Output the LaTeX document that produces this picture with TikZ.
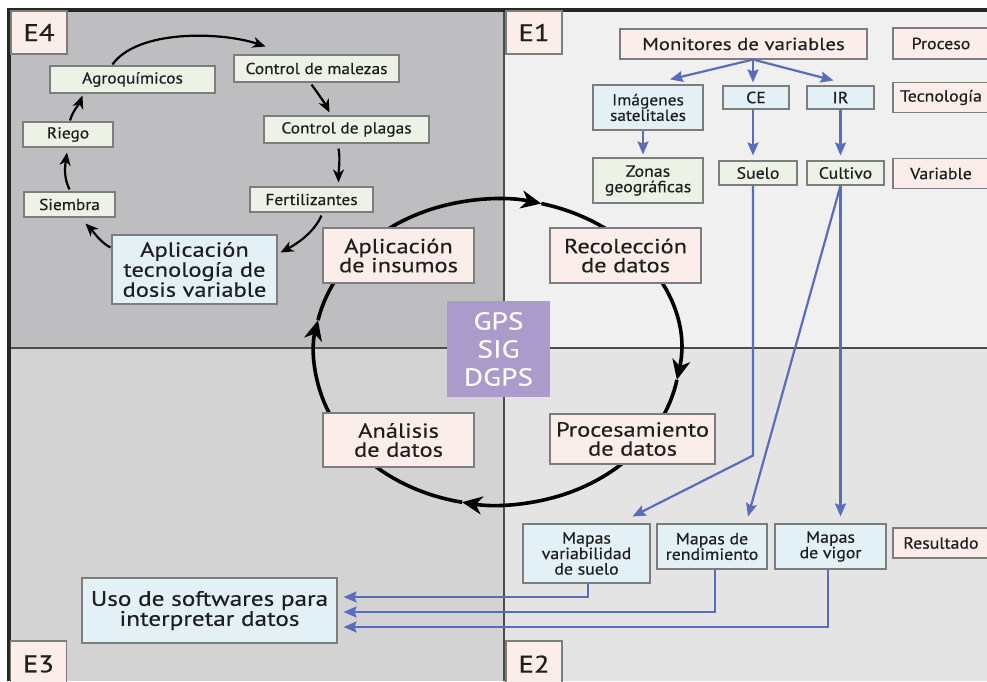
\documentclass[tikz,border=0pt]{standalone}
\usepackage{fontspec}
\setmainfont{PT Sans}[FakeStretch=1.2, FakeBold=0.3]
\newfontfamily\smallfam{PT Sans}[FakeStretch=1.1, FakeBold=0.5]
\usetikzlibrary{arrows.meta,calc}
\definecolor{pinkf}{RGB}{251,237,233}
\definecolor{greenf}{RGB}{237,242,231}
\definecolor{bluef}{RGB}{227,241,246}
\definecolor{bordc}{RGB}{125,125,125}
\definecolor{purp}{RGB}{170,155,202}
\definecolor{bluel}{RGB}{90,108,190}
\definecolor{qa}{RGB}{190,190,193}
\definecolor{qb}{RGB}{240,240,240}
\definecolor{qc}{RGB}{211,211,211}
\definecolor{qd}{RGB}{228,228,228}
\definecolor{txt}{RGB}{30,30,30}
\begin{document}
\begin{tikzpicture}[x=1pt,y=-1pt,
  box/.style={draw=bordc, line width=1.1pt, inner sep=0pt, align=center, text=txt},
  pinkbox/.style={box, fill=pinkf},
  greenbox/.style={box, fill=greenf},
  bluebox/.style={box, fill=bluef},
  fsmall/.style={font=\smallfam\fontsize{15.8}{15.5}\selectfont},
  fmid/.style={font=\smallfam\fontsize{16.2}{15.5}\selectfont},
  fbig/.style={font=\fontsize{20.4}{19}\selectfont},
  elabel/.style={pinkbox, font=\fontsize{24}{24}\selectfont, minimum width=56pt, minimum height=43pt},
  ring/.style={line width=3.6pt, black, -{Stealth[length=20pt,width=18pt,inset=6pt]}},
  blk/.style={line width=2.2pt, black, -{Stealth[length=13pt,width=11pt,inset=4pt]}},
  blu/.style={line width=2.2pt, bluel, -{Stealth[length=13pt,width=11pt,inset=2pt]}},
  divider/.style={line width=2pt, black!70}
]
\useasboundingbox (0,0) rectangle (987,681);
\clip (0,0) rectangle (987,681);
\fill[white] (0,0) rectangle (987,681);
% quadrants
\fill[qa] (9,10) rectangle (504,348);
\fill[qb] (504,10) rectangle (987,348);
\fill[qc] (9,348) rectangle (504,681);
\fill[qd] (504,348) rectangle (987,681);
\draw[divider] (504,10) -- (504,681);
\draw[divider] (9,348) -- (987,348);
\draw[line width=3.2pt, black!85] (9,681) -- (9,10) -- (987,10);

% ring
\def\rcx{497}\def\rcy{352}
\draw[ring] (\rcx,\rcy) ++(192:183 and 153) arc[start angle=192, end angle=284, x radius=183, y radius=153];
\draw[ring] (\rcx,\rcy) ++(284:183 and 153) arc[start angle=284, end angle=370.5, x radius=183, y radius=153];
\draw[ring] (\rcx,\rcy) ++(10.5:183 and 153) arc[start angle=10.5, end angle=101, x radius=183, y radius=153];
\draw[ring] (\rcx,\rcy) ++(101:183 and 153) arc[start angle=101, end angle=192, x radius=183, y radius=153];

% E labels
\node[elabel] (e4) at (39,32.5) {E4};
\node[elabel] (e1) at (534,32.5) {E1};
\node[elabel, minimum height=46pt] (e3) at (38.5,664) {E3};
\node[elabel, minimum height=46pt] (e2) at (534,664) {E2};

% E4 nodes
\node[greenbox, fsmall, minimum width=165pt, minimum height=27pt] (agro) at (132.5,79.5) {Agroquímicos};
\node[greenbox, fsmall, minimum width=165pt, minimum height=27pt] (malezas) at (316.5,68.5) {Control de malezas};
\node[greenbox, fsmall, minimum width=165pt, minimum height=27pt] (plagas) at (346.5,129.5) {Control de plagas};
\node[greenbox, fsmall, minimum width=123pt, minimum height=25pt] (fert) at (311.5,199.5) {Fertilizantes};
\node[greenbox, fsmall, minimum width=90pt, minimum height=25pt] (riego) at (68,134.5) {Riego};
\node[greenbox, fsmall, minimum width=91pt, minimum height=25pt] (siembra) at (69.5,204.5) {Siembra};
\node[bluebox, font=\fontsize{20.4}{20}\selectfont, minimum width=165pt, minimum height=69pt] (apltec) at (194.5,269.5) {Aplicación\\tecnología de\\dosis variable};

% cycle nodes
\node[pinkbox, fbig, minimum width=151pt, minimum height=55pt] (aplins) at (398.5,255.5) {Aplicación\\de insumos};
\node[pinkbox, fbig, minimum width=151pt, minimum height=55pt] (recol) at (625.5,255.5) {Recolección\\de datos};
\node[pinkbox, fbig, minimum width=151pt, minimum height=54pt] (anal) at (398.5,440) {Análisis\\de datos};
\node[pinkbox, fbig, minimum width=165pt, minimum height=50pt] (proc) at (632.5,439) {Procesamiento\\de datos};
\node[fill=purp, text=white, inner sep=0pt, align=center, font=\fontsize{24.5}{28}\selectfont, minimum width=103pt, minimum height=96pt] (gps) at (498.5,349) {GPS\\SIG\\DGPS};

% E1 nodes
\node[pinkbox, font=\fontsize{17.4}{18}\selectfont, minimum width=247pt, minimum height=30pt] (mon) at (743.5,44) {Monitores de variables};
\node[pinkbox, fmid, minimum width=96pt, minimum height=31pt] (proceso) at (941,43.5) {Proceso};
\node[bluebox, fsmall, minimum width=110pt, minimum height=45pt] (img) at (648,107.5) {Imágenes\\satelitales};
\node[bluebox, fmid, minimum width=66pt, minimum height=23pt] (ce) at (756,97.5) {CE};
\node[bluebox, fmid, minimum width=67pt, minimum height=23pt] (ir) at (840.5,97.5) {IR};
\node[pinkbox, fmid, minimum width=96pt, minimum height=30pt] (tecno) at (941,97.5) {Tecnología};
\node[greenbox, fmid, minimum width=110pt, minimum height=45pt] (zonas) at (648,180.5) {Zonas\\geográficas};
\node[greenbox, fmid, minimum width=78pt, minimum height=24pt] (suelo) at (758,173) {Suelo};
\node[greenbox, fmid, minimum width=77pt, minimum height=24pt] (cultivo) at (845.5,173) {Cultivo};
\node[pinkbox, fmid, minimum width=96pt, minimum height=30pt] (variable) at (941,173.5) {Variable};

% E2 nodes
\node[bluebox, fmid, minimum width=127pt, minimum height=59pt] (mapsuelo) at (586.5,553.5) {Mapas\\variabilidad\\de suelo};
\node[bluebox, fmid, minimum width=110pt, minimum height=45pt] (maprend) at (712,546.5) {Mapas de\\rendimiento};
\node[bluebox, fmid, minimum width=111pt, minimum height=45pt] (mapvigor) at (830.5,546.5) {Mapas\\de vigor};
\node[pinkbox, fmid, minimum width=96pt, minimum height=30pt] (resultado) at (941,543) {Resultado};

% E3 node
\node[bluebox, font=\fontsize{21}{20}\selectfont, minimum width=255pt, minimum height=65pt] (uso) at (209.5,610.5) {Uso de softwares para\\interpretar datos};

% E4 connectors
\draw[blk] ($(agro.north)+(-20,-1)$) .. controls +(25,-35) and +(-45,-15) .. ($(malezas.north)+(-51,-8)$);
\draw[blk] ($(malezas.south)+(-5,2)$) .. controls +(6,8) and +(-4,-8) .. ($(plagas.north)+(-17,-3)$);
\draw[blk] ($(plagas.south)+(-8,5)$) .. controls +(2,10) and +(0,-10) .. ($(fert.north)+(27,-4)$);
\draw[blk] ($(fert.south)+(10,3)$) .. controls +(-8,18) and +(15,-8) .. ($(apltec.east)+(3,-17)$);
\draw[blk] ($(apltec.west)+(-1,-22)$) .. controls +(-10,-5) and +(7,7) .. ($(siembra.south)+(16,6)$);
\draw[blk] ($(siembra.north)+(0,-2)$) .. controls +(-6,-12) and +(-2,14) .. ($(riego.south)+(-1,5)$);
\draw[blk] ($(riego.north)+(2,-1)$) .. controls +(3,-10) and +(-3,8) .. ($(agro.south)+(-50,2)$);

% E1 blue connectors
\coordinate (monout) at ($(mon.south)+(9.5,0)$);
\draw[blu] (monout) -- ($(img.north)+(22,-5)$);
\draw[blu] (monout) -- ($(ce.north)+(-3,-3)$);
\draw[blu] (monout) -- ($(ir.north)+(-7,-5)$);
\draw[blu] ($(img.south)+(-5,0)$) -- ($(zonas.north)+(-5,-3)$);
\draw[blu] ($(ce.south)+(-3,0)$) -- ($(suelo.north)+(-5,-5)$);
\draw[blu] (ir.south) -- ($(cultivo.north)+(-5,-5)$);
\draw[blu] ($(suelo.south)+(-5,0)$) -- ++(0,270) -- ($(mapsuelo.north)+(46,-7)$);
\draw[blu] ($(cultivo.south)+(-5,0)$) -- ($(maprend.north)+(36,-7)$);
\draw[blu] ($(cultivo.south)+(-5,0)$) -- ($(mapvigor.north)+(10,-7)$);

% E2 -> E3
\draw[blu] ($(mapsuelo.south)+(1.5,0)$) |- ($(uso.east)+(6,-13.5)$);
\draw[blu] ($(maprend.south)+(3,0)$) |- ($(uso.east)+(6,1.5)$);
\draw[blu] ($(mapvigor.south)+(-2.5,0)$) |- ($(uso.east)+(6,16.5)$);
\end{tikzpicture}
\end{document}
